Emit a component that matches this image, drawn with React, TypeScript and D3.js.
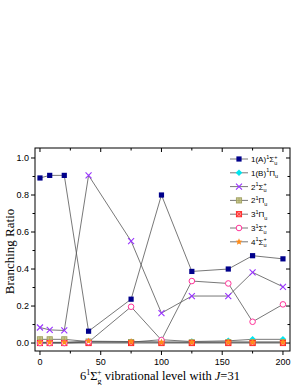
import React from "react";
import * as d3 from "d3";

const levels = [0, 8, 20, 40, 75, 100, 125, 155, 175, 200];
const sA1 = [0.892, 0.906, 0.906, 0.064, 0.237, 0.8, 0.387, 0.4, 0.472, 0.455];
const sB1Pi = [0.003, 0.003, 0.003, 0.005, 0.005, 0.018, 0.008, 0.012, 0.02, 0.02];
const s2Sig = [0.084, 0.071, 0.068, 0.906, 0.551, 0.162, 0.254, 0.254, 0.382, 0.304];
const s2Pi = [0.02, 0.02, 0.02, 0.008, 0.005, 0.005, 0.004, 0.005, 0.005, 0.005];
const s3Pi = [0, 0, 0, 0, 0, 0, 0, 0, 0, 0];
const s3Sig = [0, 0, 0, 0.005, 0.196, 0.016, 0.335, 0.322, 0.115, 0.209];
const s4Sig = [0.004, 0.004, 0.004, 0.01, 0.008, 0.005, 0.005, 0.005, 0.005, 0.005];

const xTicks = [0, 50, 100, 150, 200];
const xMinor = [25, 75, 125, 175];
const yTicks = [0, 0.2, 0.4, 0.6, 0.8, 1.0];
const yMinor = [0.1, 0.3, 0.5, 0.7, 0.9];

type Series = { num: string; pre: string; sym: string; sup: string; values: number[]; color: string; marker: string };
const series: Series[] = [
  { num: "1(A)", pre: "1", sym: "Σ", sup: "+", values: sA1, color: "#00008b", marker: "square" },
  { num: "1(B)", pre: "1", sym: "Π", sup: "", values: sB1Pi, color: "#00e5ee", marker: "diamond" },
  { num: "2", pre: "1", sym: "Σ", sup: "+", values: s2Sig, color: "#9933ff", marker: "x" },
  { num: "2", pre: "1", sym: "Π", sup: "", values: s2Pi, color: "#a0a060", marker: "osq" },
  { num: "3", pre: "1", sym: "Π", sup: "", values: s3Pi, color: "#ff2020", marker: "xsq" },
  { num: "3", pre: "1", sym: "Σ", sup: "+", values: s3Sig, color: "#ff3399", marker: "circle" },
  { num: "4", pre: "1", sym: "Σ", sup: "+", values: s4Sig, color: "#ff8c1a", marker: "star" },
];

const L = 35, R = 290, T = 148, B = 351;
const x = d3.scaleLinear().domain([-4.1, 205.8]).range([L, R]);
const y = d3.scaleLinear().domain([-0.043, 1.054]).range([B, T]);

function Marker({ kind, cx, cy, color }: { kind: string; cx: number; cy: number; color: string }) {
  const s = 2.6;
  switch (kind) {
    case "square":
      return <rect x={cx - s} y={cy - s} width={2 * s} height={2 * s} fill={color} />;
    case "diamond":
      return <path d={`M${cx},${cy - 3.3}L${cx + 3.3},${cy}L${cx},${cy + 3.3}L${cx - 3.3},${cy}Z`} fill={color} />;
    case "x":
      return (
        <path d={`M${cx - 3},${cy - 3}L${cx + 3},${cy + 3}M${cx - 3},${cy + 3}L${cx + 3},${cy - 3}`} stroke={color} strokeWidth={1.1} />
      );
    case "osq":
      return (
        <g>
          <rect x={cx - s} y={cy - s} width={2 * s} height={2 * s} fill="#c8c890" stroke={color} strokeWidth={0.9} />
          <path d={`M${cx - s},${cy}L${cx + s},${cy}M${cx},${cy - s}L${cx},${cy + s}`} stroke={color} strokeWidth={0.7} />
        </g>
      );
    case "xsq":
      return (
        <g>
          <rect x={cx - s} y={cy - s} width={2 * s} height={2 * s} fill="#ff9090" stroke={color} strokeWidth={0.9} />
          <path d={`M${cx - s},${cy - s}L${cx + s},${cy + s}M${cx - s},${cy + s}L${cx + s},${cy - s}`} stroke={color} strokeWidth={0.8} />
        </g>
      );
    case "circle":
      return <circle cx={cx} cy={cy} r={2.8} fill="white" stroke={color} strokeWidth={1} />;
    case "star": {
      const pts: string[] = [];
      for (let i = 0; i < 10; i++) {
        const a = -Math.PI / 2 + (i * Math.PI) / 5;
        const r = i % 2 === 0 ? 3.6 : 1.6;
        pts.push(`${cx + r * Math.cos(a)},${cy + r * Math.sin(a)}`);
      }
      return <polygon points={pts.join(" ")} fill={color} />;
    }
  }
  return null;
}

export default function App() {
  const line = d3
    .line<number>()
    .x((_, i) => x(levels[i]))
    .y((v) => y(v));
  const sans = "'Liberation Sans', Arial, sans-serif";
  const serif = "'Liberation Serif', 'Times New Roman', serif";
  const legX = 230, legY0 = 159, legDy = 13.8;
  return (
    <svg width={298} height={385} style={{ position: "absolute", left: 0, top: 0, background: "white" }}>
      <rect x={0} y={0} width={298} height={385} fill="white" />
      {series.map((s, k) => (
        <path key={"l" + k} d={line(s.values) || ""} fill="none" stroke="#555" strokeWidth={0.8} />
      ))}
      {series.map((s, k) => (
        <g key={"m" + k}>
          {s.values.map((v, i) => (
            <Marker key={i} kind={s.marker} cx={x(levels[i])} cy={y(v)} color={s.color} />
          ))}
        </g>
      ))}
      <rect x={L} y={T} width={R - L} height={B - T} fill="none" stroke="#000" strokeWidth={1} />
      {xTicks.map((t) => (
        <g key={"xt" + t}>
          <line x1={x(t)} x2={x(t)} y1={B} y2={B + 4} stroke="#000" />
          <line x1={x(t)} x2={x(t)} y1={T} y2={T + 4} stroke="#000" />
          <text x={x(t)} y={B + 14} fontSize={9} fontFamily={sans} textAnchor="middle">{t}</text>
        </g>
      ))}
      {xMinor.map((t) => (
        <g key={"xm" + t}>
          <line x1={x(t)} x2={x(t)} y1={B} y2={B + 2.5} stroke="#000" />
          <line x1={x(t)} x2={x(t)} y1={T} y2={T + 2.5} stroke="#000" />
        </g>
      ))}
      {yTicks.map((t) => (
        <g key={"yt" + t}>
          <line x1={L - 4} x2={L} y1={y(t)} y2={y(t)} stroke="#000" />
          <line x1={R - 4} x2={R} y1={y(t)} y2={y(t)} stroke="#000" />
          <text x={L - 6} y={y(t) + 3.2} fontSize={9} fontFamily={sans} textAnchor="end">{t.toFixed(1)}</text>
        </g>
      ))}
      {yMinor.map((t) => (
        <g key={"ym" + t}>
          <line x1={L - 2.5} x2={L} y1={y(t)} y2={y(t)} stroke="#000" />
          <line x1={R - 2.5} x2={R} y1={y(t)} y2={y(t)} stroke="#000" />
        </g>
      ))}
      <text transform={`translate(14,${(T + B) / 2 + 2}) rotate(-90)`} fontSize={13} fontFamily={serif} textAnchor="middle">
        Branching Ratio
      </text>
      <text x={160} y={380} fontSize={12.5} fontFamily={serif} textAnchor="middle">
        6<tspan fontSize={8} dy={-5}>1</tspan>
        <tspan dy={5}>Σ</tspan>
        <tspan fontSize={8} dy={3.5}>g</tspan>
        <tspan fontSize={8} dx={-4.5} dy={-9}>+</tspan>
        <tspan dy={5.5}> vibrational level with  </tspan>
        <tspan fontStyle="italic">J</tspan>=31
      </text>
      {series.map((s, k) => {
        const yy = legY0 + k * legDy;
        return (
          <g key={"lg" + k}>
            <line x1={legX} x2={legX + 18} y1={yy} y2={yy} stroke="#555" strokeWidth={0.8} />
            <Marker kind={s.marker} cx={legX + 9} cy={yy} color={s.color} />
            <text x={legX + 21} y={yy + 3} fontSize={8} fontFamily={sans}>
              {s.num}
              <tspan fontSize={5.5} dy={-3.5}>{s.pre}</tspan>
              <tspan dy={3.5}>{s.sym}</tspan>
              <tspan fontSize={5.5} dy={2.5}>u</tspan>
              {s.sup ? (
                <tspan fontSize={5.5} dx={-3} dy={-6}>{s.sup}</tspan>
              ) : null}
            </text>
          </g>
        );
      })}
    </svg>
  );
}
